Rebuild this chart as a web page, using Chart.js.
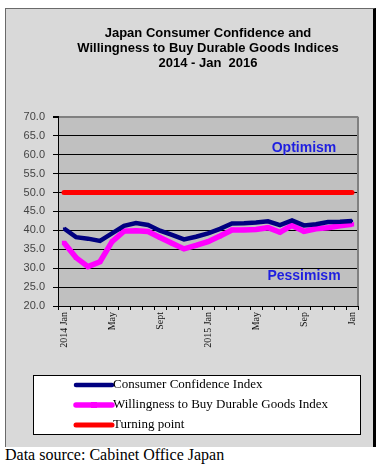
<!DOCTYPE html>
<html>
<head>
<meta charset="utf-8">
<script src="https://cdn.jsdelivr.net/npm/chart.js@4/dist/chart.umd.min.js"></script>
<style>
  body { margin: 0; background: #fff; width: 391px; height: 473px; position: relative; overflow: hidden; }
  .frame { position: absolute; left: 5px; top: 8px; width: 367px; height: 438px; background: #d9d9d9; border-left: 1px solid #6a6a6a; border-top: 1px solid #6a6a6a; border-right: 3px solid #000; }
  .frame canvas { display: block; }
  .source { position: absolute; left: 5px; top: 447px; font: 16px "Liberation Serif", "Times New Roman", serif; line-height: 16px; color: #000; }
</style>
</head>
<body>
<div class="frame"><canvas id="cci" width="367" height="437"></canvas></div>
<div class="source">Data source: Cabinet Office Japan</div>
<script>
// Jan 2014 .. Jan 2016, monthly
const months = ['2014-01', '2014-02', '2014-03', '2014-04', '2014-05', '2014-06', '2014-07', '2014-08', '2014-09', '2014-10', '2014-11', '2014-12',
  '2015-01', '2015-02', '2015-03', '2015-04', '2015-05', '2015-06', '2015-07', '2015-08', '2015-09', '2015-10', '2015-11', '2015-12', '2016-01'];
const tickLabels = ['2014 Jan', '', '', '', 'May', '', '', '', 'Sept', '', '', '', '2015 Jan', '', '', '', 'May', '', '', '', 'Sep', '', '', '', 'Jan'];
const confidence = [40.5, 38.2, 37.8, 37.2, 39.2, 41.2, 41.9, 41.4, 39.9, 38.8, 37.6, 38.3,
  39.2, 40.4, 41.8, 41.9, 42.1, 42.4, 41.4, 42.6, 41.3, 41.6, 42.2, 42.3, 42.5];
const willingness = [36.7, 32.8, 30.4, 31.7, 37.0, 39.8, 39.9, 39.7, 38.1, 36.6, 35.1, 36.0,
  37.0, 38.5, 40.1, 40.1, 40.2, 40.7, 39.5, 41.3, 39.7, 40.4, 40.7, 41.2, 41.6];
const turningPoint = [50, 50, 50, 50, 50, 50, 50, 50, 50, 50, 50, 50, 50, 50, 50, 50, 50, 50, 50, 50, 50, 50, 50, 50, 50];
const seriesNames = ['Consumer Confidence Index', 'Willingness to Buy Durable Goods Index', 'Turning point'];
const zoneNotes = ['Optimism', 'Pessimism'];
const zoneValues = [61.8, 28.0];

const sans = '"Liberation Sans", Arial, sans-serif';
const serif = '"Liberation Serif", "Times New Roman", serif';

const plotBackground = {
  id: 'plotBackground',
  beforeDraw(chart) {
    const { ctx, chartArea: a } = chart;
    ctx.save();
    ctx.fillStyle = '#c0c0c0';
    ctx.fillRect(a.left, a.top, a.right - a.left, a.bottom - a.top);
    ctx.restore();
  },
  afterDatasetsDraw(chart) {
    const { ctx, chartArea: a } = chart;
    ctx.save();
    ctx.strokeStyle = '#808080';
    ctx.lineWidth = 2;
    ctx.beginPath();
    ctx.moveTo(a.right, a.top);
    ctx.lineTo(a.right, a.bottom);
    ctx.stroke();
    ctx.restore();
  }
};

const zoneLabels = {
  id: 'zoneLabels',
  afterDatasetsDraw(chart) {
    const { ctx, scales } = chart;
    ctx.save();
    ctx.fillStyle = '#1f1fe0';
    ctx.font = 'bold 14px ' + sans;
    ctx.textAlign = 'center';
    ctx.textBaseline = 'middle';
    zoneNotes.forEach((text, i) => {
      ctx.fillText(text, scales.x.getPixelForValue(20), scales.y.getPixelForValue(zoneValues[i]));
    });
    ctx.restore();
  }
};

const boxLegend = {
  id: 'boxLegend',
  afterDraw(chart) {
    const { ctx } = chart;
    const box = { left: 27, top: 366, right: 355, bottom: 426 };
    ctx.save();
    ctx.fillStyle = '#fff';
    ctx.fillRect(box.left, box.top, box.right - box.left, box.bottom - box.top);
    ctx.strokeStyle = '#000';
    ctx.lineWidth = 1;
    ctx.strokeRect(box.left + 0.5, box.top + 0.5, box.right - box.left - 1, box.bottom - box.top - 1);
    chart.data.datasets.forEach((ds, i) => {
      const y = 376 + i * 20;
      ctx.strokeStyle = ds.borderColor;
      ctx.lineWidth = ds.borderWidth;
      ctx.lineCap = 'round';
      ctx.beginPath();
      ctx.moveTo(70, y);
      ctx.lineTo(106, y);
      ctx.stroke();
      if (ds.pointRadius > 0) {
        const r = ds.pointRadius;
        ctx.fillStyle = ds.borderColor;
        ctx.fillRect(88 - r, y - r, r * 2, r * 2);
      }
      ctx.fillStyle = '#000';
      ctx.font = '13px ' + serif;
      ctx.textAlign = 'left';
      ctx.textBaseline = 'middle';
      ctx.fillText(ds.label, 107, y);
    });
    ctx.restore();
  }
};

new Chart(document.getElementById('cci'), {
  type: 'line',
  data: {
    labels: months,
    datasets: [
      { label: seriesNames[0], data: confidence, borderColor: '#000080', backgroundColor: '#000080', borderWidth: 4.5, pointStyle: 'rect', pointRadius: 1.5, pointBorderWidth: 0, tension: 0, order: 1 },
      { label: seriesNames[1], data: willingness, borderColor: '#ff00ff', backgroundColor: '#ff00ff', borderWidth: 5.5, pointStyle: 'rect', pointRadius: 3, pointBorderWidth: 0, tension: 0, order: 2 },
      { label: seriesNames[2], data: turningPoint, borderColor: '#ff0000', backgroundColor: '#ff0000', borderWidth: 5, pointRadius: 0, borderCapStyle: 'round', tension: 0, order: 3 }
    ]
  },
  options: {
    responsive: false,
    animation: false,
    layout: { padding: { left: 0, right: 15, top: 0, bottom: 77 } },
    plugins: {
      legend: { display: false },
      tooltip: { enabled: false },
      title: {
        display: true,
        fullSize: false,
        text: ['Japan Consumer Confidence and', 'Willingness to Buy Durable Goods Indices', '2014 - Jan  2016'],
        color: '#000',
        font: { family: sans, size: 13, weight: 'bold', lineHeight: 1.15 },
        padding: { top: 17, bottom: 46 }
      }
    },
    scales: {
      x: {
        offset: true,
        afterFit(scale) { scale.height = 63; },
        border: { color: '#000', width: 1 },
        grid: { offset: true, drawOnChartArea: false, color: '#000', tickLength: 4 },
        ticks: {
          autoSkip: false,
          minRotation: 90,
          maxRotation: 90,
          padding: 2,
          color: '#111',
          font: { family: serif, size: 10 },
          callback: (value, index) => tickLabels[index]
        }
      },
      y: {
        min: 20,
        max: 70,
        afterFit(scale) { scale.width = 52; },
        border: { color: '#000', width: 1 },
        grid: {
          color: (c) => (c.tick && c.tick.value === 70 ? '#808080' : '#000'),
          lineWidth: (c) => (c.tick && c.tick.value === 70 ? 2 : 1),
          tickColor: '#000',
          tickLength: 5
        },
        ticks: {
          stepSize: 5,
          padding: 8,
          color: '#444',
          font: { family: sans, size: 11 },
          callback: (value) => Number(value).toFixed(1)
        }
      }
    }
  },
  plugins: [plotBackground, zoneLabels, boxLegend]
});
</script>
</body>
</html>
